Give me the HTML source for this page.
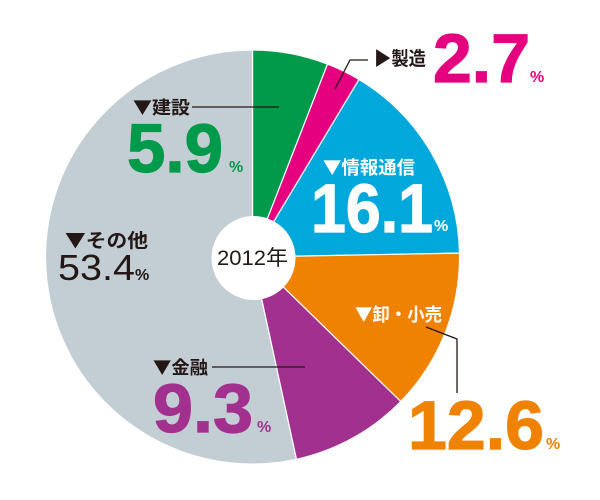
<!DOCTYPE html>
<html><head><meta charset="utf-8"><style>
html,body{margin:0;padding:0;background:#fff;}
svg{display:block;}
.lb{font-family:"Noto Sans CJK JP","Liberation Sans",sans-serif;font-weight:bold;}
.big{font-family:"Liberation Sans",sans-serif;font-weight:bold;}
</style></head><body>
<svg width="600" height="500" viewBox="0 0 600 500" xmlns="http://www.w3.org/2000/svg">
<g stroke="#fff" stroke-width="1.2" stroke-linejoin="round">
<path d="M252.5,257 L252.5,50 A207,207 0 0 1 327.5,64.1 Z" fill="#009a4a"/>
<path d="M252.5,257 L327.5,64.1 A207,207 0 0 1 359,79.5 Z" fill="#e4007f"/>
<path d="M252.5,257 L359,79.5 A207,207 0 0 1 459.5,253.1 Z" fill="#00a8dc"/>
<path d="M252.5,257 L459.5,253.1 A207,207 0 0 1 400.7,401.5 Z" fill="#ef8200"/>
<path d="M252.5,257 L400.7,401.5 A207,207 0 0 1 296.4,459.3 Z" fill="#a2308e"/>
<path d="M252.5,257 L296.4,459.3 A207,207 0 1 1 252.5,50 Z" fill="#c3cdd4"/>
</g>
<circle cx="253.5" cy="258" r="42" fill="#fff"/>
<text x="217" y="265" font-family="Liberation Sans,Noto Sans CJK JP,sans-serif" font-size="21" fill="#231815" textLength="71" lengthAdjust="spacingAndGlyphs">2012年</text>

<g stroke="#231815" stroke-width="1.3" fill="none">
<path d="M192,107 L279,107"/>
<path d="M335,89 L350,60 L368,60"/>
<path d="M212,367 L305,367"/>
<path d="M426,327 L457,339 L457,393"/>
</g>

<!-- labels -->
<text class="lb" x="133" y="114" font-size="18" fill="#231815" textLength="57" lengthAdjust="spacingAndGlyphs">▼建設</text>
<text class="lb" x="374" y="65" font-size="19" fill="#231815" textLength="52" lengthAdjust="spacingAndGlyphs">▶製造</text>
<text class="lb" x="323" y="174" font-size="18" fill="#fff" textLength="92" lengthAdjust="spacingAndGlyphs">▼情報通信</text>
<text class="lb" x="355" y="321" font-size="18" fill="#fff" textLength="87" lengthAdjust="spacingAndGlyphs">▼卸・小売</text>
<text class="lb" x="65" y="247" font-size="19" fill="#231815" textLength="83" lengthAdjust="spacingAndGlyphs">▼その他</text>
<text class="lb" x="153" y="374" font-size="18" fill="#231815" textLength="55" lengthAdjust="spacingAndGlyphs">▼金融</text>

<!-- big numbers -->
<g stroke-width="1.2">
<text class="big" x="127" y="172" font-size="69" fill="#009a4a" stroke="#009a4a" textLength="96" lengthAdjust="spacingAndGlyphs">5.9</text>
<text class="big" x="433" y="82" font-size="69" fill="#e4007f" stroke="#e4007f" textLength="97" lengthAdjust="spacingAndGlyphs">2.7</text>
<text class="big" x="311" y="232" font-size="69" fill="#fff" stroke="#fff" textLength="122" lengthAdjust="spacingAndGlyphs">16.1</text>
<text class="big" x="408" y="449" font-size="69" fill="#ef8200" stroke="#ef8200" textLength="136" lengthAdjust="spacingAndGlyphs">12.6</text>
<text class="big" x="153" y="432" font-size="69" fill="#a2308e" stroke="#a2308e" textLength="100" lengthAdjust="spacingAndGlyphs">9.3</text>
</g>
<text class="big" x="229" y="172" font-size="16" fill="#009a4a">%</text>
<text class="big" x="530" y="82" font-size="16" fill="#e4007f">%</text>
<text class="big" x="434" y="231" font-size="16" fill="#fff">%</text>
<text class="big" x="546" y="449" font-size="16" fill="#ef8200">%</text>
<text class="big" x="257" y="432" font-size="16" fill="#a2308e">%</text>

<text x="58" y="280" font-family="Liberation Sans,sans-serif" font-size="36" fill="#231815" textLength="77" lengthAdjust="spacingAndGlyphs">53.4</text>
<text class="big" x="135" y="280" font-size="16" fill="#231815">%</text>
</svg>
</body></html>
